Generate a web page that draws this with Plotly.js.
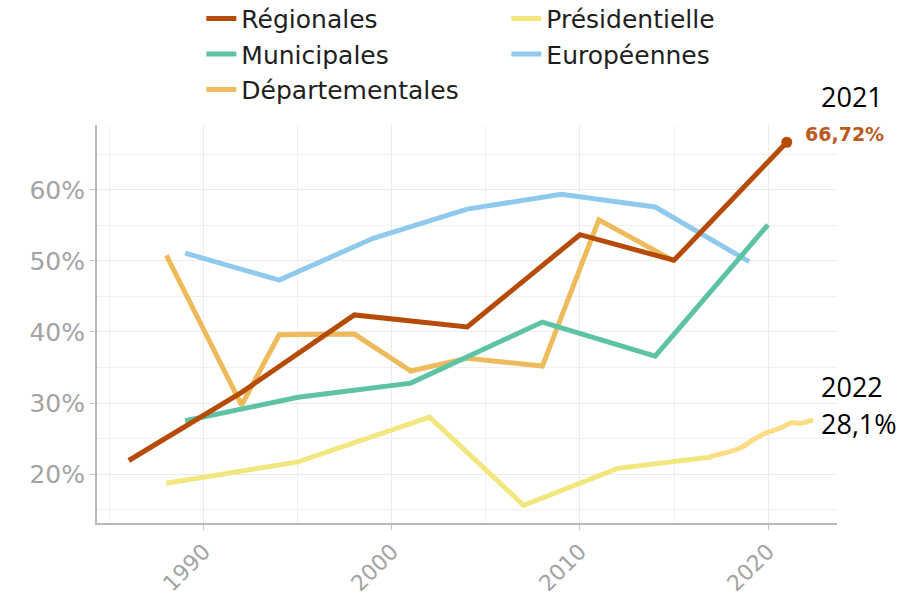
<!DOCTYPE html>
<html>
<head>
<meta charset="utf-8">
<script src="https://cdn.plot.ly/plotly-3.0.1.min.js"></script>
<style>html,body{margin:0;padding:0;background:#fff;}#chart{width:912px;height:597px;}</style>
</head>
<body>
<div id="chart"></div>
<script>
// Data (abstention rate, %)
const YEARS_REG = [1986, 1992, 1998, 2004, 2010, 2015, 2021];
const REG = [21.9, 31.5, 42.4, 40.7, 53.7, 50.1, 66.72];
const YEARS_MUN = [1989, 1995, 2001, 2008, 2014, 2020];
const MUN = [27.5, 30.8, 32.8, 41.4, 36.6, 55.1];
const YEARS_DEP = [1988, 1992, 1994, 1998, 2001, 2004, 2008, 2011, 2015];
const DEP = [50.8, 29.7, 39.6, 39.7, 34.5, 36.3, 35.2, 55.8, 50.0];
const YEARS_PRES = [1988, 1995, 2002, 2007, 2012, 2017];
const PRES = [18.7, 21.7, 28.0, 15.6, 20.8, 22.4];
const YEARS_EXT = [2016.9, 2018.5, 2019.2, 2019.84, 2020.64, 2021.26, 2021.7, 2022.4];
const EXT = [22.44, 23.62, 24.79, 25.73, 26.44, 27.23, 27.14, 27.61];
const YEARS_EUR = [1989, 1994, 1999, 2004, 2009, 2014, 2019];
const EUR = [51.1, 47.3, 53.2, 57.3, 59.4, 57.6, 49.9];
const X_TICKS = [1990, 2000, 2010, 2020];
const Y_TICKS = [20, 30, 40, 50, 60];

const C_REG = '#B64B08', C_MUN = '#5DC3A4', C_DEP = '#EDBB5B', C_PRES = '#F1E77E', C_EUR = '#8FCAEE', C_EXT = '#FCDD86';
const LW = 5;
const FONT = 'DejaVu Sans, sans-serif';

const traces = [
  {x: YEARS_EUR, y: EUR, name: 'Européennes', mode: 'lines', line: {color: C_EUR, width: LW}, legendrank: 4},
  {x: YEARS_PRES, y: PRES, name: 'Présidentielle', mode: 'lines', line: {color: C_PRES, width: LW}, legendrank: 2},
  {x: YEARS_EXT, y: EXT, name: 'ext', mode: 'lines', line: {color: C_EXT, width: LW, shape: 'spline'}, showlegend: false},
  {x: YEARS_DEP, y: DEP, name: 'Départementales', mode: 'lines', line: {color: C_DEP, width: LW}, legendrank: 5},
  {x: YEARS_MUN, y: MUN, name: 'Municipales', mode: 'lines', line: {color: C_MUN, width: LW}, legendrank: 3},
  {x: YEARS_REG, y: REG, name: 'Régionales', mode: 'lines', line: {color: C_REG, width: LW}, legendrank: 1},
  {x: [YEARS_REG[YEARS_REG.length-1]], y: [REG[REG.length-1]], mode: 'markers', marker: {color: C_REG, size: 11}, showlegend: false}
];

const lastReg = REG[REG.length-1];
const layout = {
  width: 912, height: 597,
  margin: {l: 97, r: 75, t: 125, b: 74, pad: 0, autoexpand: false},
  paper_bgcolor: '#fff', plot_bgcolor: '#fff',
  showlegend: true,
  legend: {
    orientation: 'h', x: 0.141, xanchor: 'left', y: 1.325, yanchor: 'top',
    font: {family: FONT, size: 25, color: '#1e1e1e'},
    entrywidth: 260, entrywidthmode: 'pixels',
    traceorder: 'normal', bgcolor: 'rgba(0,0,0,0)'
  },
  xaxis: {
    range: [1984.31, 2023.67], tickvals: X_TICKS, ticktext: X_TICKS.map(String),
    tickangle: -45, tickfont: {family: FONT, size: 22, color: '#a3a3a3'},
    showgrid: true, gridcolor: '#ebebeb', gridwidth: 1,
    minor: {dtick: 5, tick0: 1985, showgrid: true, gridcolor: '#f0f0f0', gridwidth: 1},
    showline: true, linecolor: '#b9b9b9', linewidth: 2,
    ticks: 'outside', ticklen: 5, tickcolor: '#c4c4c4', tickwidth: 1,
    zeroline: false, fixedrange: true, automargin: false
  },
  yaxis: {
    range: [13.1, 69.15], tickvals: Y_TICKS, ticktext: Y_TICKS.map(v => v + '%'),
    tickfont: {family: FONT, size: 25, color: '#a3a3a3'},
    showgrid: true, gridcolor: '#ebebeb', gridwidth: 1,
    minor: {dtick: 5, tick0: 15, showgrid: true, gridcolor: '#f0f0f0', gridwidth: 1},
    showline: true, linecolor: '#b9b9b9', linewidth: 2,
    ticks: 'outside', ticklen: 5, tickcolor: '#c4c4c4', tickwidth: 1,
    zeroline: false, fixedrange: true, automargin: false
  },
  annotations: [
    {xref: 'paper', yref: 'paper', x: 0.954, y: 0.978, xanchor: 'left', yanchor: 'middle', showarrow: false,
     text: '<b>' + lastReg.toFixed(2).replace('.', ',') + '%</b>', font: {family: FONT, size: 19, color: '#BC5A1E'}},
    {xref: 'paper', yref: 'paper', x: 0.976, y: 1.072, xanchor: 'left', yanchor: 'middle', showarrow: false,
     text: '2021', font: {family: 'Open Sans, sans-serif', size: 27, color: '#000'}},
    {xref: 'paper', yref: 'paper', x: 0.976, y: 0.344, xanchor: 'left', yanchor: 'middle', showarrow: false,
     text: '2022', font: {family: 'Open Sans, sans-serif', size: 27, color: '#000'}},
    {xref: 'paper', yref: 'paper', x: 0.976, y: 0.249, xanchor: 'left', yanchor: 'middle', showarrow: false,
     text: '28,1%', font: {family: 'Open Sans, sans-serif', size: 27, color: '#000'}}
  ]
};

Plotly.newPlot('chart', traces, layout, {displayModeBar: false, staticPlot: true});
</script>
</body>
</html>
